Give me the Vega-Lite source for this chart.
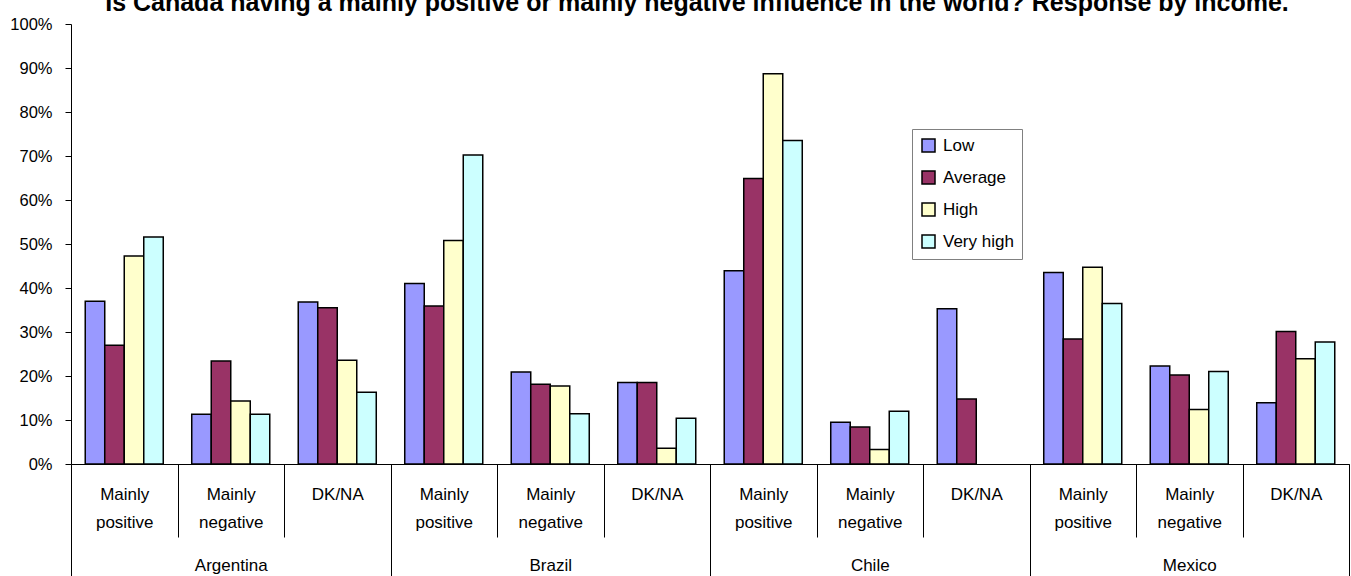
{
 "$schema": "https://vega.github.io/schema/vega-lite/v6.json",
 "width": 1278,
 "height": 440,
 "autosize": {"type": "none"},
 "padding": {"left": 71, "top": 24, "right": 2, "bottom": 112},
 "background": "white",
 "title": {"text": "Is Canada having a mainly positive or mainly negative influence in the world? Response by income.", "font": "Liberation Sans", "fontSize": 25, "fontWeight": "bold", "color": "black", "anchor": "middle", "frame": "group", "baseline": "alphabetic", "offset": 2, "dx": -13, "dy": 22},
 "data": {"values": [
  {"country": "Argentina", "response": "Mainly positive", "key": "Argentina|Mainly positive", "income": "Low", "value": 37.0},
  {"country": "Argentina", "response": "Mainly positive", "key": "Argentina|Mainly positive", "income": "Average", "value": 27.0},
  {"country": "Argentina", "response": "Mainly positive", "key": "Argentina|Mainly positive", "income": "High", "value": 47.3},
  {"country": "Argentina", "response": "Mainly positive", "key": "Argentina|Mainly positive", "income": "Very high", "value": 51.6},
  {"country": "Argentina", "response": "Mainly negative", "key": "Argentina|Mainly negative", "income": "Low", "value": 11.3},
  {"country": "Argentina", "response": "Mainly negative", "key": "Argentina|Mainly negative", "income": "Average", "value": 23.4},
  {"country": "Argentina", "response": "Mainly negative", "key": "Argentina|Mainly negative", "income": "High", "value": 14.3},
  {"country": "Argentina", "response": "Mainly negative", "key": "Argentina|Mainly negative", "income": "Very high", "value": 11.3},
  {"country": "Argentina", "response": "DK/NA", "key": "Argentina|DK/NA", "income": "Low", "value": 36.8},
  {"country": "Argentina", "response": "DK/NA", "key": "Argentina|DK/NA", "income": "Average", "value": 35.5},
  {"country": "Argentina", "response": "DK/NA", "key": "Argentina|DK/NA", "income": "High", "value": 23.6},
  {"country": "Argentina", "response": "DK/NA", "key": "Argentina|DK/NA", "income": "Very high", "value": 16.3},
  {"country": "Brazil", "response": "Mainly positive", "key": "Brazil|Mainly positive", "income": "Low", "value": 41.0},
  {"country": "Brazil", "response": "Mainly positive", "key": "Brazil|Mainly positive", "income": "Average", "value": 35.9},
  {"country": "Brazil", "response": "Mainly positive", "key": "Brazil|Mainly positive", "income": "High", "value": 50.8},
  {"country": "Brazil", "response": "Mainly positive", "key": "Brazil|Mainly positive", "income": "Very high", "value": 70.2},
  {"country": "Brazil", "response": "Mainly negative", "key": "Brazil|Mainly negative", "income": "Low", "value": 20.9},
  {"country": "Brazil", "response": "Mainly negative", "key": "Brazil|Mainly negative", "income": "Average", "value": 18.1},
  {"country": "Brazil", "response": "Mainly negative", "key": "Brazil|Mainly negative", "income": "High", "value": 17.7},
  {"country": "Brazil", "response": "Mainly negative", "key": "Brazil|Mainly negative", "income": "Very high", "value": 11.4},
  {"country": "Brazil", "response": "DK/NA", "key": "Brazil|DK/NA", "income": "Low", "value": 18.5},
  {"country": "Brazil", "response": "DK/NA", "key": "Brazil|DK/NA", "income": "Average", "value": 18.5},
  {"country": "Brazil", "response": "DK/NA", "key": "Brazil|DK/NA", "income": "High", "value": 3.6},
  {"country": "Brazil", "response": "DK/NA", "key": "Brazil|DK/NA", "income": "Very high", "value": 10.4},
  {"country": "Chile", "response": "Mainly positive", "key": "Chile|Mainly positive", "income": "Low", "value": 43.9},
  {"country": "Chile", "response": "Mainly positive", "key": "Chile|Mainly positive", "income": "Average", "value": 64.9},
  {"country": "Chile", "response": "Mainly positive", "key": "Chile|Mainly positive", "income": "High", "value": 88.7},
  {"country": "Chile", "response": "Mainly positive", "key": "Chile|Mainly positive", "income": "Very high", "value": 73.5},
  {"country": "Chile", "response": "Mainly negative", "key": "Chile|Mainly negative", "income": "Low", "value": 9.5},
  {"country": "Chile", "response": "Mainly negative", "key": "Chile|Mainly negative", "income": "Average", "value": 8.4},
  {"country": "Chile", "response": "Mainly negative", "key": "Chile|Mainly negative", "income": "High", "value": 3.3},
  {"country": "Chile", "response": "Mainly negative", "key": "Chile|Mainly negative", "income": "Very high", "value": 12.0},
  {"country": "Chile", "response": "DK/NA", "key": "Chile|DK/NA", "income": "Low", "value": 35.3},
  {"country": "Chile", "response": "DK/NA", "key": "Chile|DK/NA", "income": "Average", "value": 14.8},
  {"country": "Mexico", "response": "Mainly positive", "key": "Mexico|Mainly positive", "income": "Low", "value": 43.5},
  {"country": "Mexico", "response": "Mainly positive", "key": "Mexico|Mainly positive", "income": "Average", "value": 28.4},
  {"country": "Mexico", "response": "Mainly positive", "key": "Mexico|Mainly positive", "income": "High", "value": 44.7},
  {"country": "Mexico", "response": "Mainly positive", "key": "Mexico|Mainly positive", "income": "Very high", "value": 36.5},
  {"country": "Mexico", "response": "Mainly negative", "key": "Mexico|Mainly negative", "income": "Low", "value": 22.3},
  {"country": "Mexico", "response": "Mainly negative", "key": "Mexico|Mainly negative", "income": "Average", "value": 20.2},
  {"country": "Mexico", "response": "Mainly negative", "key": "Mexico|Mainly negative", "income": "High", "value": 12.4},
  {"country": "Mexico", "response": "Mainly negative", "key": "Mexico|Mainly negative", "income": "Very high", "value": 21.0},
  {"country": "Mexico", "response": "DK/NA", "key": "Mexico|DK/NA", "income": "Low", "value": 13.9},
  {"country": "Mexico", "response": "DK/NA", "key": "Mexico|DK/NA", "income": "Average", "value": 30.1},
  {"country": "Mexico", "response": "DK/NA", "key": "Mexico|DK/NA", "income": "High", "value": 23.9},
  {"country": "Mexico", "response": "DK/NA", "key": "Mexico|DK/NA", "income": "Very high", "value": 27.7}
 ]},
 "layer": [
  {
   "mark": {"type": "bar", "stroke": "black", "strokeWidth": 1.5},
   "encoding": {
    "x": {"field": "key", "type": "nominal", "sort": null,
          "scale": {"paddingInner": 0, "paddingOuter": 0},
          "axis": {"orient": "bottom", "title": null, "labelAngle": 0, "tickBand": "extent", "tickSize": 73, "tickColor": "black", "domainColor": "black", "labelPadding": -51, "labelExpr": "indexof(datum.label + '', '|') >= 0 ? split(split(datum.label, '|')[1], ' ') : ''", "labelFont": "Liberation Sans", "labelFontSize": 17, "labelColor": "black", "labelLineHeight": 28, "labelBaseline": "top", "labelOverlap": false}},
    "xOffset": {"field": "income", "type": "nominal", "sort": ["Low", "Average", "High", "Very high"], "scale": {"paddingOuter": 0.73, "paddingInner": 0}},
    "y": {"field": "value", "type": "quantitative", "scale": {"domain": [0, 100]},
          "axis": {"title": null, "values": [0, 10, 20, 30, 40, 50, 60, 70, 80, 90, 100], "labelExpr": "datum.value + '%'", "grid": false, "tickSize": 6, "tickColor": "black", "domainColor": "black", "labelPadding": 13, "labelFont": "Liberation Sans", "labelFontSize": 16.5, "labelColor": "black"}},
    "color": {"field": "income", "type": "nominal",
              "scale": {"domain": ["Low", "Average", "High", "Very high"], "range": ["#9999FF", "#993366", "#FFFFCC", "#CCFFFF"]},
              "legend": {"title": null, "orient": "none", "legendX": 841, "legendY": 105, "symbolType": "square", "symbolSize": 169, "symbolStrokeColor": "black", "symbolStrokeWidth": 1.5, "labelFont": "Liberation Sans", "labelFontSize": 17, "labelColor": "black", "rowPadding": 13, "padding": 8, "strokeColor": "#808080", "fillColor": "white", "labelOffset": 6}}
   }
  },
  {
   "mark": {"type": "bar", "opacity": 0},
   "encoding": {
    "x": {"field": "country", "type": "nominal", "sort": null,
          "scale": {"paddingInner": 0, "paddingOuter": 0},
          "axis": {"orient": "bottom", "title": null, "labelAngle": 0, "tickBand": "extent", "tickSize": 112, "tickColor": "black", "domain": false, "labelPadding": -19, "labelFont": "Liberation Sans", "labelFontSize": 17, "labelColor": "black", "labelBaseline": "top", "labelOverlap": false}},
    "y": {"field": "value", "type": "quantitative", "stack": null}
   }
  }
 ],
 "resolve": {"scale": {"x": "independent"}, "axis": {"x": "independent"}},
 "config": {"view": {"stroke": null}}
}
